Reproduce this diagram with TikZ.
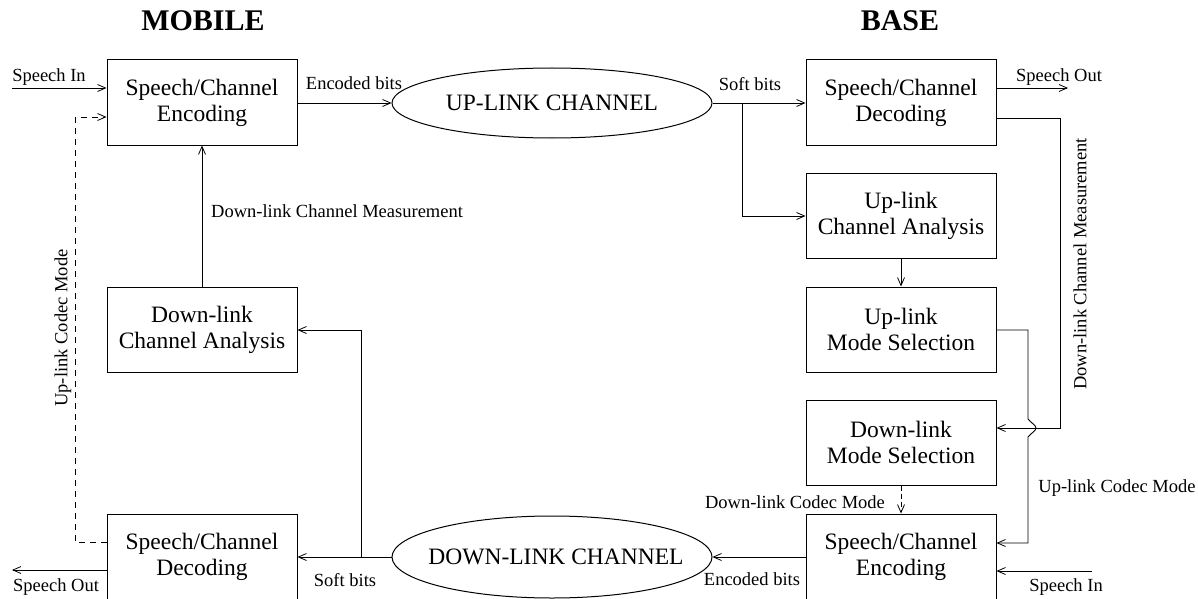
\documentclass[tikz,border=0pt]{standalone}
\usepackage{fontspec}
\setmainfont{Liberation Serif}
\usetikzlibrary{arrows.meta,shapes.geometric}
\tikzset{
  blk/.style={draw,line width=1pt,minimum width=190pt,minimum height=85pt,inner sep=0pt,align=center,font=\fontsize{23.5}{26}\selectfont},
  chan/.style={draw,ellipse,line width=1pt,minimum width=320pt,minimum height=70pt,inner sep=0pt,font=\fontsize{23.5}{26}\selectfont},
  lbl/.style={inner sep=0pt,font=\fontsize{18.5}{21}\selectfont},
  ttl/.style={inner sep=0pt,font=\fontsize{30}{33}\selectfont\bfseries},
  conn/.style={line width=0.9pt,-{Straight Barb[length=8pt,width=7pt,line width=0.8pt]}},
  dsh/.style={dash pattern=on 6pt off 5pt}
}
\begin{document}
\begin{tikzpicture}[x=1pt,y=-1pt]
\useasboundingbox (0,0) rectangle (1198,599);
% titles
\node[ttl,anchor=base] (tmob) at (203,31) {MOBILE};
\node[ttl,anchor=base] (tbas) at (900,31) {BASE};
% blocks
\node[blk] (menc) at (202,102.5) {Speech/Channel\\Encoding};
\node[blk] (mdca) at (202,329.5) {Down-link\\Channel Analysis};
\node[blk] (mdec) at (202,556.5) {Speech/Channel\\Decoding};
\node[blk] (bdec) at (901,102.5) {Speech/Channel\\Decoding};
\node[blk] (buca) at (901,215.5) {Up-link\\Channel Analysis};
\node[blk] (bums) at (901,329.5) {Up-link\\Mode Selection};
\node[blk] (bdms) at (901,442.5) {Down-link\\Mode Selection};
\node[blk] (benc) at (901,556.5) {Speech/Channel\\Encoding};
\node[chan] (upch) at (552,103) {\makebox[0pt]{UP-LINK CHANNEL}};
\node[chan,minimum height=82pt] (dnch) at (552,557) {\makebox[0pt]{\hspace{8pt}DOWN-LINK CHANNEL}};
% free ends
\coordinate (si1) at (12,88);
\coordinate (so1) at (1068,88);
\coordinate (si2) at (1092,571);
\coordinate (so2) at (12,570);
% mobile side
\draw[conn] (si1) -- (si1 -| menc.west);
\node[lbl] (lsi1) at (49,77) {Speech In};
\draw[conn,dsh] (mdec.west |- 0,542) -- (75,542) -- (75,117) -- (menc.west |- 0,117);
\node[lbl,rotate=90] (lucm1) at (63,328) {Up-link Codec Mode};
\draw[conn] (menc.east |- 0,103) -- (upch.west);
\node[lbl] (leb1) at (354,83) {Encoded bits};
\draw[conn] (mdca.north) -- (menc.south);
\node[lbl,anchor=west] (ldcm1) at (211,211) {Down-link Channel Measurement};
\draw[conn] (dnch.west) -- (mdec.east |- dnch.west);
\draw[conn] (361,557) -- (361,330) -- (mdca.east |- 0,330);
\node[lbl] (lsb2) at (345,580) {Soft bits};
\draw[conn] (mdec.west |- so2) -- (so2);
\node[lbl] (lso2) at (56,587) {Speech Out};
% base side
\draw[conn] (upch.east) -- (bdec.west |- upch.east);
\draw[conn] (742,103) -- (742,216) -- (buca.west |- 0,216);
\node[lbl] (lsb1) at (750,84) {Soft bits};
\draw[conn] (bdec.east |- so1) -- (so1);
\node[lbl] (lso1) at (1059,77) {Speech Out};
\draw[conn] (buca.south) -- (bums.north);
\draw[conn] (bdec.east |- 0,118) -- (1060,118) -- (1060,428) -- (bdms.east |- 0,428);
\node[lbl,rotate=90] (ldcm2) at (1080,264) {Down-link Channel Measurement};
\draw[conn] (bums.east |- 0,330) -- (1028,330) -- (1028,419)
  .. controls (1031,423) and (1036,425) .. (1036,428)
  .. controls (1036,431) and (1031,433) .. (1028,437)
  -- (1028,543) -- (benc.east |- 0,543);
\node[lbl] (lucm2) at (1117,488) {Up-link Codec Mode};
\draw[conn] (si2) -- (si2 -| benc.east);
\node[lbl] (lsi2) at (1066,587) {Speech In};
\draw[conn,dash pattern=on 5pt off 3pt] (bdms.south) -- (benc.north);
\node[lbl] (ldcm) at (795,502) {Down-link Codec Mode};
\draw[conn] (benc.west |- dnch.east) -- (dnch.east);
\node[lbl] (leb2) at (752,579) {Encoded bits};
\end{tikzpicture}
\end{document}
